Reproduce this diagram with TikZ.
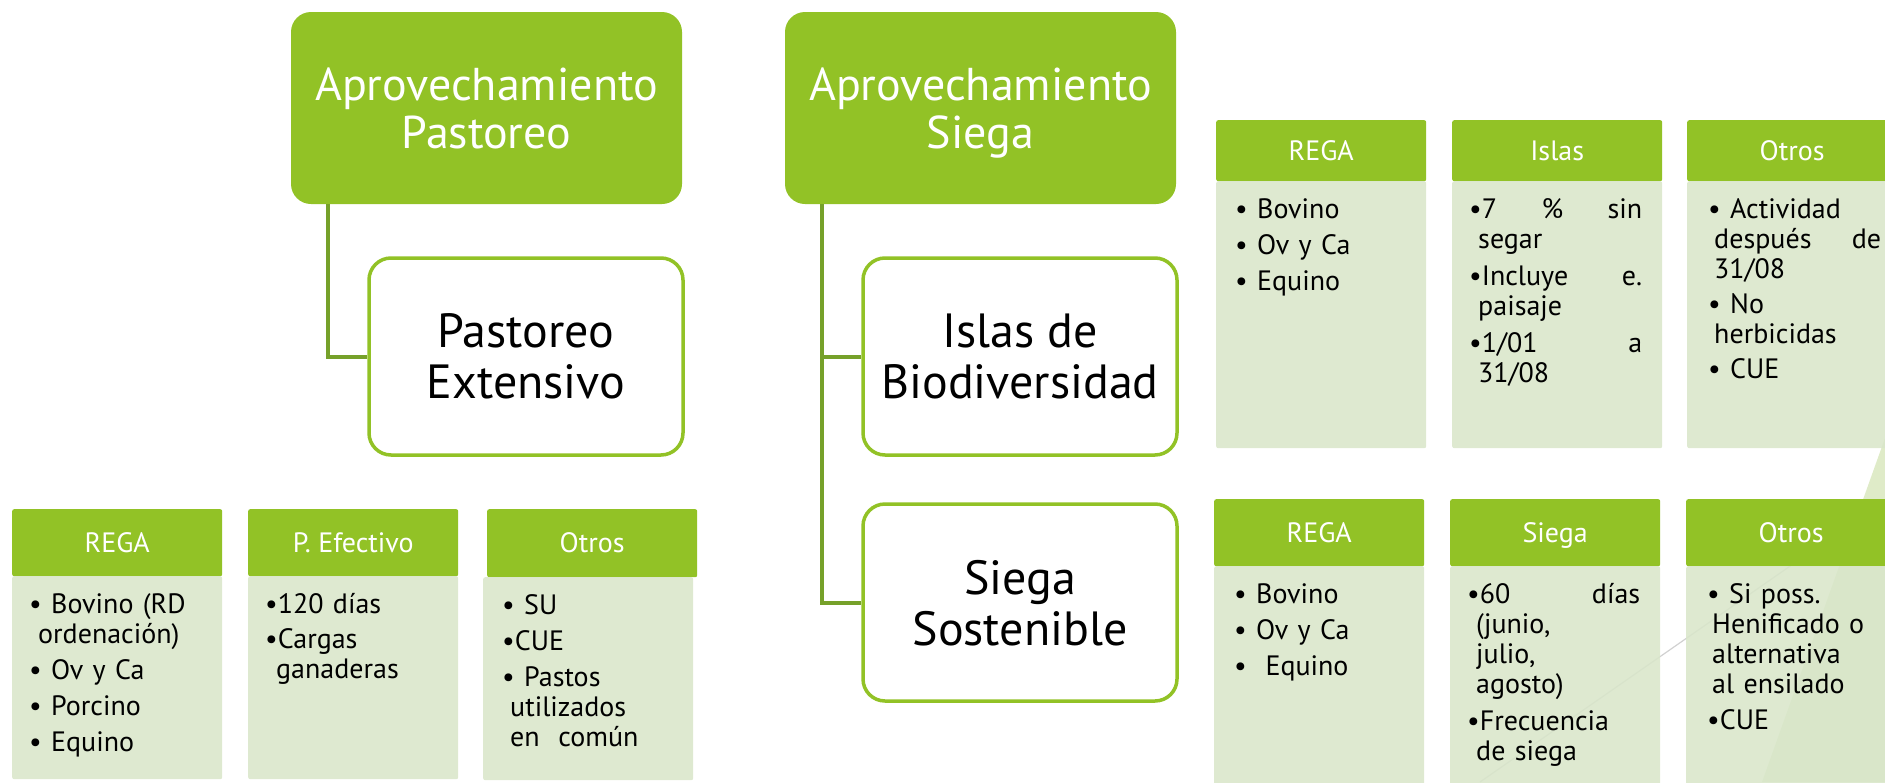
\documentclass[tikz,border=0pt]{standalone}
\usepackage{fontspec}
\setmainfont{PT Sans}
\usetikzlibrary{calc}
\definecolor{hdr}{RGB}{146,194,38}
\definecolor{bodyc}{RGB}{217,230,202}
\definecolor{conngreen}{RGB}{118,161,42}
\definecolor{deco}{RGB}{223,235,200}
\newcommand{\fl}{\rule{0pt}{24pt}}
\newcommand{\jl}[1]{\leavevmode\hbox to 173pt{#1}}
\tikzset{
  topbox/.style={fill=hdr, draw=none, rounded corners=20pt, minimum width=391pt, minimum height=192pt,
    text=white, align=center, font=\fontsize{46}{48}\selectfont, text depth=0pt, inner sep=0pt},
  midbox/.style={fill=white, draw=hdr, line width=3.5pt, rounded corners=22pt, minimum width=314pt,
    minimum height=197pt, align=center, font=\fontsize{48}{51}\selectfont, text depth=0pt, inner sep=0pt},
  hdrbox/.style={fill=hdr, rounded corners=2pt, minimum width=210pt, text=white,
    font=\fontsize{28}{30}\selectfont, text height=19.5pt, text depth=0pt, inner sep=0pt, anchor=north west},
  bodybox/.style={fill=bodyc, fill opacity=0.88, rounded corners=2pt, inner sep=0pt, anchor=north west,
    minimum width=210pt},
  bodytext/.style={anchor=north west, inner sep=0pt, text width=185pt, align=left,
    font=\fontsize{28}{30}\selectfont},
  connline/.style={draw=conngreen, line width=4pt},
}
% name, header x, body x, top y, header height, body height, title, text, text x offset
\newcommand{\infobox}[9]{%
  \node[hdrbox, minimum height=#5pt] (#1h) at (#2,#4) {#7};
  \node[bodybox, minimum height=#6pt] (#1b) at (#3,#4+#5) {};
  \node[bodytext] (#1t) at ($(#1b.north west)+(#9,13)$) {#8};
}
\begin{document}
\begin{tikzpicture}[x=1pt,y=-1pt]
\useasboundingbox (0,0) rectangle (1885,782);
\clip (0,0) rectangle (1885,782);
% background decoration
\fill[deco] (1885,438) -- (1762,782) -- (1885,782) -- cycle;
\draw[black!18, line width=1.2pt] (1480,782) -- (1885,500);

% main boxes
\node[topbox] (A) at (486.5,108) {Aprovechamiento\\Pastoreo};
\node[topbox] (B) at (980.5,108) {Aprovechamiento\\Siega};
\node[midbox] (PE) at (526,356.5) {Pastoreo\\Extensivo};
\node[midbox] (IB) at (1020,356.5) {Islas de\\Biodiversidad};
\node[midbox] (SS) at (1020,602.5) {Siega\\Sostenible};

\draw[connline] ($(A.south west)+(37,0)$) |- (PE.west);
\draw[connline] ($(B.south west)+(37,0)$) |- (IB.west);
\draw[connline] ($(B.south west)+(37,0)$) |- (SS.west);

% bottom-left row
\infobox{la}{12}{12}{509}{67}{203}{REGA}{\fl\textbullet\ Bovino (RD\\\hspace*{9pt}ordenación)\\[6pt]\textbullet\ Ov y Ca\\[6pt]\textbullet\ Porcino\\[6pt]\textbullet\ Equino}{17}
\infobox{lb}{248}{248}{509}{67}{203}{P. Efectivo}{\fl\textbullet 120 días\\[5pt]\textbullet Cargas\\\hspace*{11pt}ganaderas}{17}
\infobox{lc}{487}{483}{509}{68}{203}{Otros}{\fl\textbullet\ SU\\[6pt]\textbullet CUE\\[6pt]\textbullet\ Pastos\\\hspace*{8pt}utilizados\\\hspace*{8pt}en\ \ común}{19}

% top-right row
\infobox{ra}{1216}{1216}{120}{61}{267}{REGA}{\fl\textbullet\ Bovino\\[6pt]\textbullet\ Ov y Ca\\[6pt]\textbullet\ Equino}{19}
\infobox{rb}{1452}{1452}{120}{61}{267}{Islas}{\fl\jl{\textbullet 7\hfill\%\hfill sin}\\\hspace*{9pt}segar\\[7pt]\jl{\textbullet Incluye\hfill e.}\\\hspace*{9pt}paisaje\\[7pt]\jl{\textbullet 1/01\hfill a}\\\hspace*{9pt}31/08}{17}
\infobox{rc}{1687}{1687}{120}{61}{267}{Otros}{\fl\textbullet\ Actividad\\\jl{\hspace*{6pt}después\hfill de}\\\hspace*{6pt}31/08\\[5pt]\textbullet\ No\\\hspace*{6pt}herbicidas\\[5pt]\textbullet\ CUE}{21}

% bottom-right row
\infobox{sa}{1214}{1214}{499}{67}{230}{REGA}{\fl\textbullet\ Bovino\\[6pt]\textbullet\ Ov y Ca\\[6pt]\textbullet\ \ Equino}{20}
\infobox{sb}{1450}{1450}{499}{67}{230}{Siega}{\fl\jl{\textbullet 60\hfill días}\\\hspace*{9pt}(junio,\\\hspace*{9pt}julio,\\\hspace*{9pt}agosto)\\[7pt]\textbullet Frecuencia\\\hspace*{9pt}de siega}{17}
\infobox{sc}{1686}{1686}{499}{67}{230}{Otros}{\fl\textbullet\ Si poss.\\\hspace*{5pt}Henificado o\\\hspace*{5pt}alternativa\\\hspace*{5pt}al ensilado\\[6pt]\textbullet CUE}{21}
\end{tikzpicture}
\end{document}
